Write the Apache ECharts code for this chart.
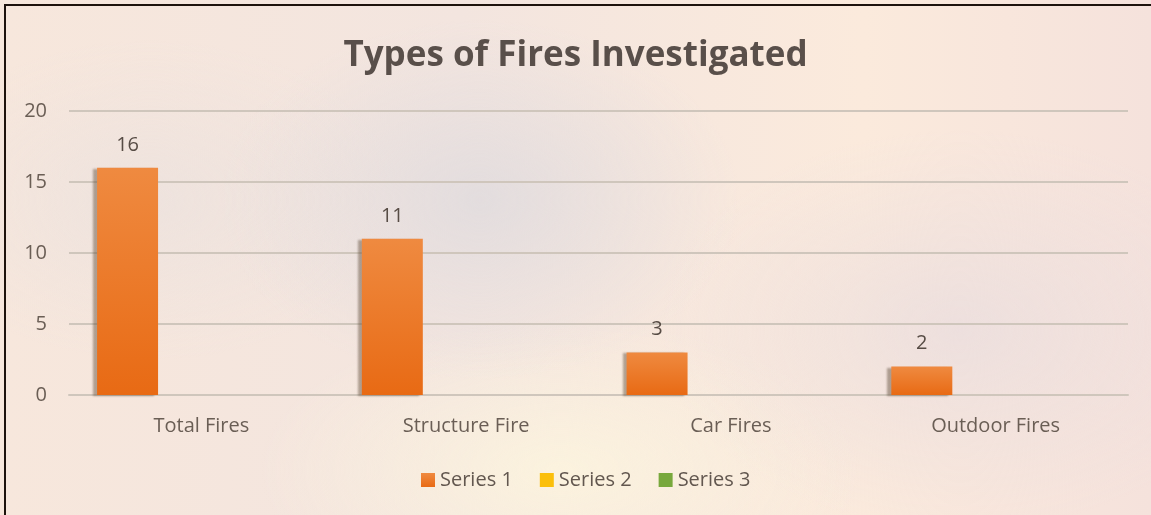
<!DOCTYPE html>
<html><head><meta charset="utf-8">
<script src="https://cdn.jsdelivr.net/npm/echarts@6/dist/echarts.min.js"></script>
<style>
html,body{margin:0;padding:0;width:1151px;height:515px;overflow:hidden;}
body{background:
 radial-gradient(ellipse 260px 180px at 480px 200px, rgba(225,220,222,0.9), rgba(225,220,222,0) 100%),
 radial-gradient(ellipse 300px 200px at 960px 330px, rgba(235,222,222,0.85), rgba(235,222,222,0) 100%),
 radial-gradient(ellipse 250px 160px at 150px 200px, rgba(236,226,222,0.8), rgba(236,226,222,0) 100%),
 radial-gradient(ellipse 300px 150px at 560px 470px, rgba(252,244,222,0.9), rgba(252,244,222,0) 100%),
 linear-gradient(90deg,#f7e7dc 0%,#f3e5df 40%,#fbeadc 75%,#f5e2dc 100%);}
#frame{position:absolute;left:4px;top:4px;width:1200px;height:600px;border-left:2px solid #1d120c;border-top:2px solid #1d120c;}
#chart{position:absolute;left:0;top:0;width:1151px;height:515px;}
</style></head>
<body>
<div id="frame"></div>
<div id="chart"></div>
<script>
const categories = ['Total Fires','Structure Fire','Car Fires','Outdoor Fires'];
const series1 = [16, 11, 3, 2];
const series2 = [0, 0, 0, 0];
const series3 = [0, 0, 0, 0];
const yTicks = [0, 5, 10, 15, 20];

const chart = echarts.init(document.getElementById('chart'), null, {renderer:'canvas'});
const font = '"Open Sans", "DejaVu Sans", sans-serif';
chart.setOption({
  backgroundColor: 'transparent',
  animation: false,
  title: {
    text: 'Types of Fires Investigated',
    left: 'center', top: 34,
    textStyle: {fontFamily: font, fontSize: 35, fontWeight: 'bold', color: '#594f4a'}
  },
  legend: {
    data: ['Series 1','Series 2','Series 3'],
    bottom: 20, left: 416,
    itemWidth: 14, itemHeight: 14, itemGap: 27,
    icon: 'rect',
    textStyle: {fontFamily: font, fontSize: 20, color: '#62574f'}
  },
  grid: {left: 69, right: 23, top: 111, bottom: 120, containLabel: false},
  xAxis: {
    type: 'category', data: categories,
    axisLine: {lineStyle: {color: '#cfc6bc', width: 2}},
    axisTick: {show: false},
    axisLabel: {fontFamily: font, fontSize: 20, color: '#6a5e55', margin: 21}
  },
  yAxis: {
    type: 'value', min: yTicks[0], max: yTicks[yTicks.length-1], interval: 5,
    axisLine: {show: false}, axisTick: {show: false},
    splitLine: {lineStyle: {color: '#cfc6bc', width: 2}},
    axisLabel: {fontFamily: font, fontSize: 20, color: '#6a5e55', margin: 22}
  },
  series: [
    {name: 'Series 1', type: 'bar', data: series1, barWidth: 61, barGap: '21%', barCategoryGap: '21%',
     itemStyle: {color: new echarts.graphic.LinearGradient(0,0,0,1,[{offset:0,color:'#ef8a40'},{offset:1,color:'#e86a14'}]),
       shadowColor: 'rgba(90,70,50,0.45)', shadowBlur: 2, shadowOffsetX: -4, shadowOffsetY: 1},
     label: {show: true, position: 'top', distance: 13, fontFamily: font, fontSize: 20, color: '#574c45'}},
    {name: 'Series 2', type: 'bar', data: series2, barWidth: 61, barGap: '21%', itemStyle: {color: '#fbbf0a'}},
    {name: 'Series 3', type: 'bar', data: series3, barWidth: 61, barGap: '21%', itemStyle: {color: '#78a83c'}}
  ]
});
</script>
</body></html>
